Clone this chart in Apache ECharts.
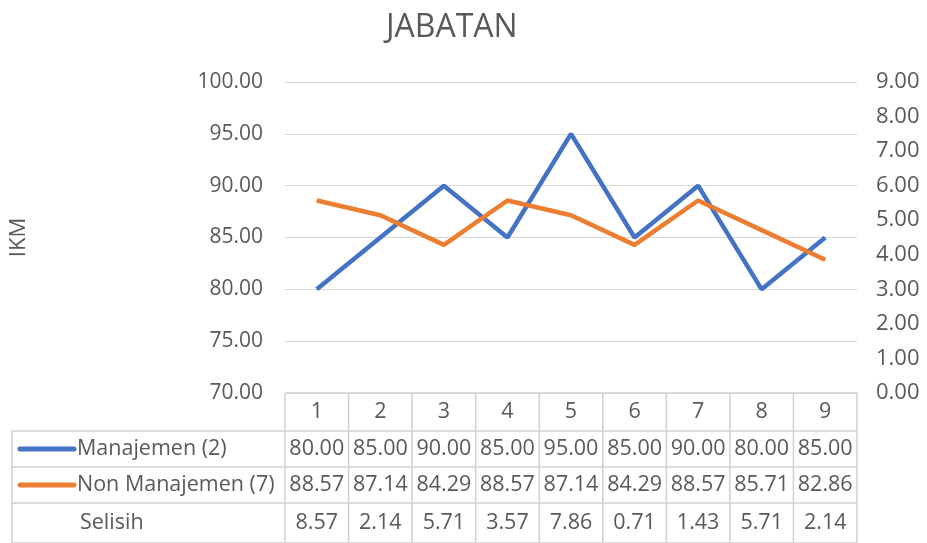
<!DOCTYPE html>
<html>
<head>
<meta charset="utf-8">
<script src="https://cdn.jsdelivr.net/npm/echarts@6/dist/echarts.min.js"></script>
<style>html,body{margin:0;padding:0;background:#fff}#c{width:927px;height:543px}</style>
</head>
<body>
<div id="c"></div>
<script>
const categories = ['1','2','3','4','5','6','7','8','9'];
const manajemen = [80.00, 85.00, 90.00, 85.00, 95.00, 85.00, 90.00, 80.00, 85.00];
const nonManajemen = [88.57, 87.14, 84.29, 88.57, 87.14, 84.29, 88.57, 85.71, 82.86];
const selisih = [8.57, 2.14, 5.71, 3.57, 7.86, 0.71, 1.43, 5.71, 2.14];
const seriesNames = ['Manajemen (2)', 'Non Manajemen (7)', 'Selisih'];
const colors = ['#4472C4', '#ED7D31'];

const FONT = 'Open Sans';
const TXT = '#595959';
const GRID = '#d9d9d9';
const TBL = '#d0d0d0';

const chart = echarts.init(document.getElementById('c'));
chart.setOption({
  animation: false,
  title: {
    text: 'JABATAN', left: 381, top: 7,
    textStyle: { fontFamily: FONT, fontSize: 32, fontWeight: 'normal', color: TXT }
  },
  grid: { left: 284, right: 70, top: 82, bottom: 150 },
  xAxis: {
    type: 'category', data: categories, boundaryGap: true,
    axisLine: { show: false }, axisTick: { show: false }, axisLabel: { show: false }
  },
  yAxis: [
    {
      type: 'value', min: 70, max: 100, interval: 5,
      name: 'IKM', nameLocation: 'middle', nameGap: 255, nameRotate: 90,
      nameTextStyle: { fontFamily: FONT, fontSize: 22, color: TXT },
      axisLabel: { fontFamily: FONT, fontSize: 21, color: TXT, margin: 22, formatter: v => v.toFixed(2) },
      axisLine: { show: false }, axisTick: { show: false },
      splitLine: { lineStyle: { color: GRID, width: 1 } }
    },
    {
      type: 'value', min: 0, max: 9, interval: 1, position: 'right',
      axisLabel: { fontFamily: FONT, fontSize: 22, color: TXT, margin: 19, formatter: v => v.toFixed(2) },
      axisLine: { show: false }, axisTick: { show: false }, splitLine: { show: false }
    }
  ],
  series: [
    { name: seriesNames[0], type: 'line', data: manajemen, yAxisIndex: 0, showSymbol: false, symbol: 'none',
      lineStyle: { color: colors[0], width: 4.5 }, itemStyle: { color: colors[0] } },
    { name: seriesNames[1], type: 'line', data: nonManajemen, yAxisIndex: 0, showSymbol: false, symbol: 'none',
      lineStyle: { color: colors[1], width: 4.5 }, itemStyle: { color: colors[1] } }
  ]
});

// Data table under the plot, positioned from the category axis
const xs = categories.map((c, i) => chart.convertToPixel({ xAxisIndex: 0 }, i));
const half = (xs[1] - xs[0]) / 2;
const x0 = xs[0] - half, x1 = xs[xs.length - 1] + half;
const yTop = chart.convertToPixel({ yAxisIndex: 0 }, 70);
const rowH = [38, 36, 36, 40];
const ys = [yTop];
rowH.forEach(h => ys.push(ys[ys.length - 1] + h));
const labelLeft = 12;
const g = [];
const line = (xa, ya, xb, yb) => g.push({ type: 'line', shape: { x1: xa, y1: ya, x2: xb, y2: yb }, style: { stroke: TBL, lineWidth: 1.5 }, silent: true });
line(x0, ys[0], x1, ys[0]);
for (let r = 1; r < ys.length; r++) line(labelLeft, ys[r], x1, ys[r]);
line(labelLeft, ys[1], labelLeft, ys[4]);
for (let i = 0; i <= categories.length; i++) {
  const x = x0 + i * 2 * half;
  line(x, ys[0], x, ys[4]);
}
const txt = (x, y, s, align) => g.push({ type: 'text', x, y, style: { text: s, fontFamily: FONT, fontSize: 21.5, fill: TXT, align: align || 'center', verticalAlign: 'middle' }, silent: true });
const rowsData = [manajemen, nonManajemen, selisih];
categories.forEach((c, i) => txt(xs[i], (ys[0] + ys[1]) / 2, c));
rowsData.forEach((arr, r) => {
  const yc = (ys[r + 1] + ys[r + 2]) / 2;
  arr.forEach((v, i) => txt(xs[i], yc, v.toFixed(2)));
  if (r < 2) {
    g.push({ type: 'line', shape: { x1: 20, y1: yc, x2: 74, y2: yc }, style: { stroke: colors[r], lineWidth: 5, lineCap: 'round' }, silent: true });
    txt(77, yc, seriesNames[r], 'left');
  } else {
    txt(80, yc, seriesNames[r], 'left');
  }
});
chart.setOption({ graphic: g });
</script>
</body>
</html>
